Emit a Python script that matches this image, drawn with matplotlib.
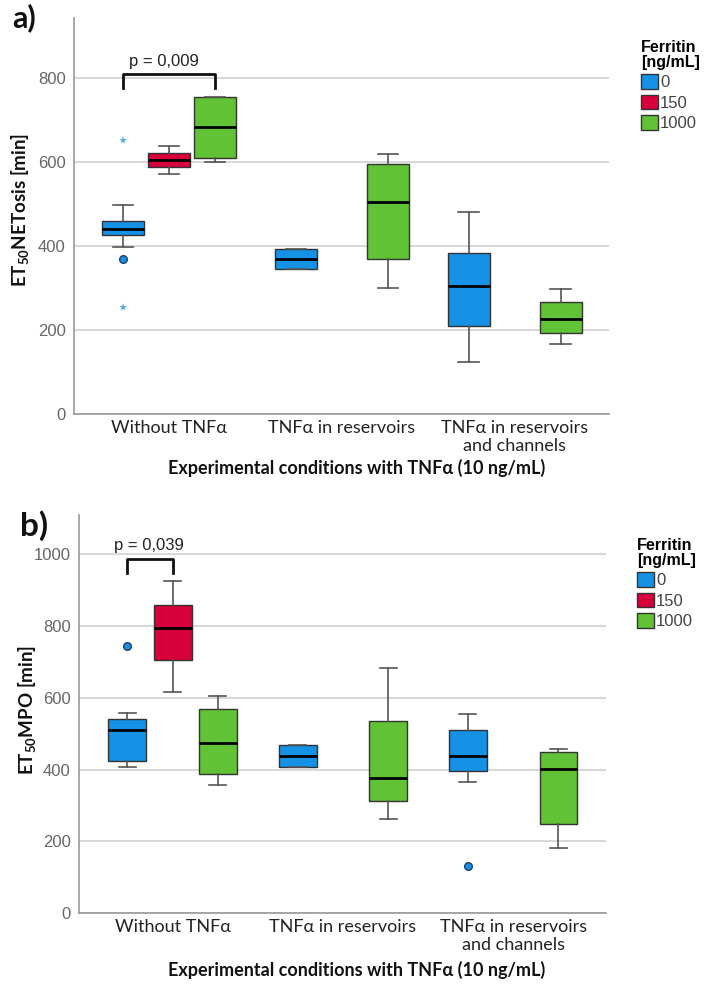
import matplotlib
matplotlib.use("Agg")
import matplotlib.pyplot as plt
from matplotlib.patches import Patch

plt.rcParams['mathtext.fontset'] = 'custom'
plt.rcParams['mathtext.rm'] = 'Lato'
plt.rcParams['mathtext.bf'] = 'Lato:bold'

groups = ['Without TNFα', 'TNFα in reservoirs', 'TNFα in reservoirs\nand channels']
ferritin = ['0', '150', '1000']
colors = ['#1591E6', '#D8003A', '#62C236']

# Panel a: ET50 NETosis [min]  (rows: groups, cols: ferritin 0/150/1000)
net_med = [[440, 604, 684], [368, None, 504], [305, None, 226]]
net_q1 = [[426, 589, 609], [345, None, 368], [210, None, 192]]
net_q3 = [[460, 621, 754], [392, None, 595], [383, None, 266]]
net_wlo = [[398, 572, 599], [345, None, 301], [124, None, 167]]
net_whi = [[497, 638, 756], [392, None, 619], [481, None, 298]]
net_out = [[[370], [], []], [[], [], []], [[], [], []]]
net_ext = [[[652, 254], [], []], [[], [], []], [[], [], []]]

# Panel b: ET50 MPO [min]
mpo_med = [[511, 794, 473], [439, None, 376], [439, None, 403]]
mpo_q1 = [[424, 705, 387], [407, None, 313], [397, None, 248]]
mpo_q3 = [[541, 859, 568], [469, None, 536], [510, None, 449]]
mpo_wlo = [[407, 616, 356], [407, None, 262], [366, None, 182]]
mpo_whi = [[558, 927, 605], [469, None, 684], [556, None, 458]]
mpo_out = [[[745], [], []], [[], [], []], [[132], [], []]]
mpo_ext = [[[], [], []], [[], [], []], [[], [], []]]

offsets = [-0.266, 0.0, 0.266]

W, H = 709, 986
fig = plt.figure(figsize=(W / 100, H / 100), dpi=100)


def panel(rect, med, q1, q3, wlo, whi, out, ext, ylim, yticks, bw, cw):
    ax = fig.add_axes(rect)
    for gi in range(3):
        for fi in range(3):
            if med[gi][fi] is None:
                continue
            pos = gi + offsets[fi]
            st = dict(med=med[gi][fi], q1=q1[gi][fi], q3=q3[gi][fi],
                      whislo=wlo[gi][fi], whishi=whi[gi][fi], fliers=[])
            ax.bxp([st], positions=[pos], widths=bw, capwidths=cw,
                   showfliers=False, patch_artist=True,
                   boxprops=dict(facecolor=colors[fi], edgecolor='#333333', linewidth=1.0),
                   medianprops=dict(color='black', linewidth=2.0),
                   whiskerprops=dict(color='#555555', linewidth=1.2),
                   capprops=dict(color='#555555', linewidth=1.2), zorder=3)
            if out[gi][fi]:
                ax.scatter([pos] * len(out[gi][fi]), out[gi][fi], s=30, marker='o',
                           facecolor=colors[fi], edgecolor='#1d3d66', linewidth=1.0, zorder=4)
            if ext[gi][fi]:
                ax.scatter([pos] * len(ext[gi][fi]), ext[gi][fi], s=35, marker='*',
                           facecolor='#4DAAE8', edgecolor='none', zorder=4)
    ax.set_xlim(-0.55, 2.545)
    ax.set_ylim(*ylim)
    ax.set_yticks(yticks)
    ax.set_xticks([0, 1, 2])
    ax.set_xticklabels(groups, fontfamily='Lato', fontsize=13, color='#222222',
                       linespacing=1.2, va='top')
    for lab in ax.get_yticklabels():
        lab.set_fontfamily('Liberation Sans')
        lab.set_fontsize(12)
        lab.set_color('#666666')
    ax.tick_params(axis='both', length=0)
    ax.tick_params(axis='x', pad=4)
    ax.tick_params(axis='y', pad=6)
    ax.yaxis.grid(True, color='#d4d4d4', linewidth=1.3)
    ax.set_axisbelow(True)
    for s in ['top', 'right']:
        ax.spines[s].set_visible(False)
    for s in ['left', 'bottom']:
        ax.spines[s].set_color('#999999')
        ax.spines[s].set_linewidth(1.2)
    return ax


axa = panel([74 / W, 1 - 414 / H, 535 / W, 396 / H], net_med, net_q1, net_q3, net_wlo,
            net_whi, net_out, net_ext, (0, 943), [0, 200, 400, 600, 800], 0.243, 0.12)
axb = panel([79 / W, 1 - 913 / H, 527 / W, 398 / H], mpo_med, mpo_q1, mpo_q3, mpo_wlo,
            mpo_whi, mpo_out, mpo_ext, (0, 1110), [0, 200, 400, 600, 800, 1000], 0.222, 0.10)

# significance brackets
axa.plot([-0.266, -0.266, 0.266, 0.266], [776, 810, 810, 776], color='#111111', lw=2, zorder=5)
axa.text(-0.03, 822, 'p = 0,009', ha='center', va='bottom', fontsize=12,
         fontfamily='Liberation Sans', color='#222222')
axb.plot([-0.266, -0.266, 0.0, 0.0], [948, 988, 988, 948], color='#111111', lw=2, zorder=5)
axb.text(-0.138, 1004, 'p = 0,039', ha='center', va='bottom', fontsize=12,
         fontfamily='Liberation Sans', color='#222222')

# axis titles
xt = 'Experimental conditions with TNFα (10 ng/mL)'
fig.text(357 / W, 1 - 468 / H, xt, ha='center', va='center', fontfamily='Lato',
         fontweight='bold', fontsize=13, color='#111111')
fig.text(357 / W, 1 - 970 / H, xt, ha='center', va='center', fontfamily='Lato',
         fontweight='bold', fontsize=13, color='#111111')
fig.text(21 / W, 1 - 210 / H, r'ET$_{\mathbf{50}}$NETosis [min]', rotation=90, ha='center',
         va='center', fontfamily='Lato', fontweight='bold', fontsize=13.5, color='#111111')
fig.text(28 / W, 1 - 710 / H, r'ET$_{\mathbf{50}}$MPO [min]', rotation=90, ha='center',
         va='center', fontfamily='Lato', fontweight='bold', fontsize=13.5, color='#111111')

# panel letters
fig.text(12 / W, 1 - 3 / H, 'a)', ha='left', va='top', fontfamily='Lato',
         fontweight='bold', fontsize=22, color='#111111')
fig.text(20 / W, 1 - 510 / H, 'b)', ha='left', va='top', fontfamily='Lato',
         fontweight='bold', fontsize=24, color='#111111')

# legends
handles = [Patch(facecolor=c, edgecolor='#333333', linewidth=1.0, label=l)
           for c, l in zip(colors, ferritin)]
for (lx, ly) in [(641, 40), (637, 538)]:
    leg = fig.legend(handles=handles, title='Ferritin\n[ng/mL]', loc='upper left',
                     bbox_to_anchor=(lx / W, 1 - ly / H), frameon=False,
                     prop=dict(family='Liberation Sans', size=12),
                     handlelength=1.0, handleheight=1.0, handletextpad=0.15,
                     labelspacing=0.25, borderpad=0, borderaxespad=0,
                     alignment='left')
    leg.get_title().set_fontweight('bold')
    leg.get_title().set_fontfamily('Liberation Sans')
    leg.get_title().set_fontsize(11.5)
    leg.get_title().set_linespacing(1.0)
    for t in leg.get_texts():
        t.set_color('#444444')

fig.savefig('out.png', dpi=100)
